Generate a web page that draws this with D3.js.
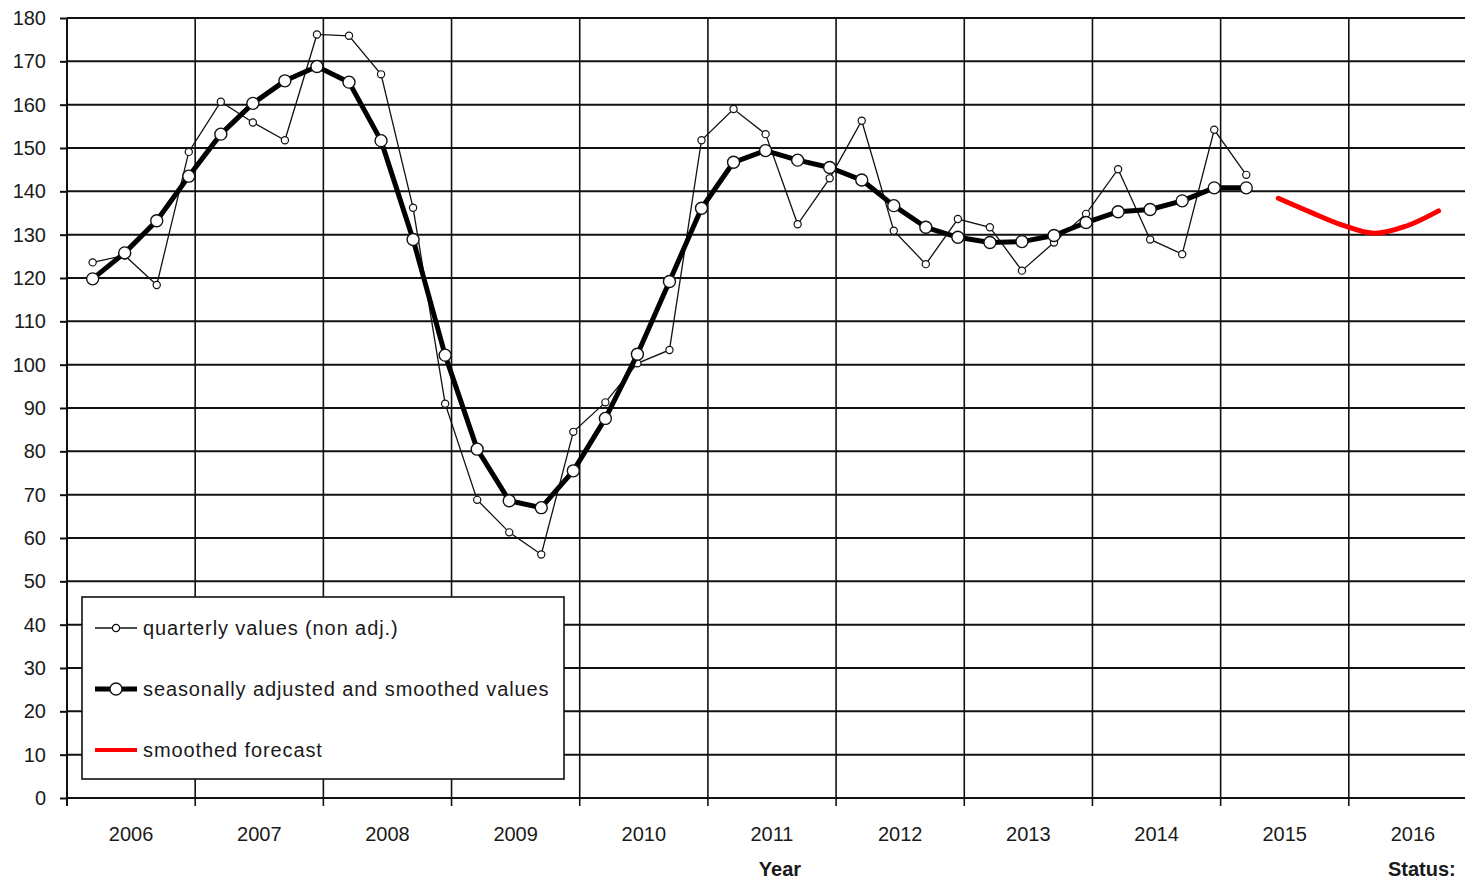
<!DOCTYPE html>
<html>
<head>
<meta charset="utf-8">
<script src="https://cdn.jsdelivr.net/npm/d3@7"></script>
<style>
  body { margin: 0; background: #fff; }
  svg { display: block; font-family: "Liberation Sans", Arial, sans-serif; }
</style>
</head>
<body>
<div id="chart"></div>
<script>
// Chart data
const years = [2006, 2007, 2008, 2009, 2010, 2011, 2012, 2013, 2014, 2015, 2016]
const yTicks = [0, 10, 20, 30, 40, 50, 60, 70, 80, 90, 100, 110, 120, 130, 140, 150, 160, 170, 180]

// quarterly values (non adj.), starting 2006 Q1
const quarterly = [
  123.6, 125.2, 118.4, 149.1,
  160.7, 155.9, 151.8, 176.2,
  175.9, 167.0, 136.2, 91.0,
  68.8, 61.3, 56.2, 84.5,
  91.3, 100.3, 103.4, 151.8,
  159.0, 153.2, 132.4, 143.0,
  156.3, 130.9, 123.2, 133.6,
  131.7, 121.7, 128.2, 134.8,
  145.1, 128.9, 125.5, 154.2,
  143.8
]

// seasonally adjusted and smoothed values, starting 2006 Q1
const smoothed = [
  119.8, 125.8, 133.2, 143.5,
  153.2, 160.3, 165.5, 168.8,
  165.2, 151.7, 128.9, 102.2,
  80.5, 68.6, 67.0, 75.5,
  87.6, 102.4, 119.2, 136.1,
  146.7, 149.4, 147.2, 145.5,
  142.6, 136.7, 131.7, 129.4,
  128.2, 128.4, 129.8, 132.8,
  135.3, 135.8, 137.8, 140.8,
  140.8
]

// smoothed forecast, 2015 Q2 .. 2016 Q3
const forecast = [138.4, 135.2, 132.2, 130.3, 132.0, 135.5]

const width = 1465
const height = 880
const margin = { top: 18, left: 67, bottom: 82 }
const plotRight = 1477 // plot runs past the right edge, as in the original

// quarter index (0 = 2006 Q1) -> fractional year
const qTime = i => 2006 + Math.floor(i / 4) + ((i % 4) + 0.8) / 4

const x = d3.scaleLinear().domain([2006, 2017]).range([margin.left, plotRight])
const y = d3.scaleLinear().domain([0, 180]).range([height - margin.bottom, margin.top])

const svg = d3.select('#chart')
  .append('svg')
  .attr('width', width)
  .attr('height', height)

// horizontal grid + y labels
const yAxis = d3.axisLeft(y).tickValues(yTicks).tickSize(7).tickPadding(14)
svg.append('g')
  .attr('transform', `translate(${margin.left},0)`)
  .call(yAxis)
  .call(g => g.select('.domain').remove())
  .call(g => g.selectAll('.tick line').attr('stroke', '#111').attr('stroke-width', 2))
  .call(g => g.selectAll('.tick text').attr('font-size', 20).attr('fill', '#1a1a1a'))

svg.append('g')
  .selectAll('line')
  .data(yTicks)
  .join('line')
  .attr('x1', margin.left)
  .attr('x2', plotRight)
  .attr('y1', d => y(d))
  .attr('y2', d => y(d))
  .attr('stroke', '#111')
  .attr('stroke-width', 2)

// vertical grid at year boundaries + ticks below
const yearEdges = years.concat([2017])
svg.append('g')
  .selectAll('line')
  .data(yearEdges)
  .join('line')
  .attr('x1', d => x(d))
  .attr('x2', d => x(d))
  .attr('y1', y(180))
  .attr('y2', y(0) + 8)
  .attr('stroke', '#111')
  .attr('stroke-width', d => d === 2006 ? 2 : 1.6)

// year labels
svg.append('g')
  .selectAll('text')
  .data(years)
  .join('text')
  .attr('x', d => x(d + 0.5))
  .attr('y', y(0) + 43)
  .attr('text-anchor', 'middle')
  .attr('font-size', 20)
  .attr('fill', '#1a1a1a')
  .text(d => d)

svg.append('text')
  .attr('x', 780)
  .attr('y', y(0) + 78)
  .attr('text-anchor', 'middle')
  .attr('font-size', 20)
  .attr('font-weight', 'bold')
  .attr('fill', '#1a1a1a')
  .text('Year')

svg.append('text')
  .attr('x', 1388)
  .attr('y', y(0) + 78)
  .attr('font-size', 20)
  .attr('font-weight', 'bold')
  .attr('fill', '#1a1a1a')
  .text('Status:')

// lines
const line = d3.line()
  .x(d => x(d.t))
  .y(d => y(d.v))

const qData = quarterly.map((v, i) => ({ t: qTime(i), v }))
const sData = smoothed.map((v, i) => ({ t: qTime(i), v }))
const fData = forecast.map((v, i) => ({ t: qTime(37 + i), v }))

svg.append('path')
  .datum(qData)
  .attr('d', line)
  .attr('fill', 'none')
  .attr('stroke', '#111')
  .attr('stroke-width', 1.3)

svg.append('g')
  .selectAll('circle')
  .data(qData)
  .join('circle')
  .attr('cx', d => x(d.t))
  .attr('cy', d => y(d.v))
  .attr('r', 3.6)
  .attr('fill', '#fff')
  .attr('stroke', '#111')
  .attr('stroke-width', 1.2)

svg.append('path')
  .datum(sData)
  .attr('d', line)
  .attr('fill', 'none')
  .attr('stroke', '#000')
  .attr('stroke-width', 5)
  .attr('stroke-linejoin', 'round')

svg.append('g')
  .selectAll('circle')
  .data(sData)
  .join('circle')
  .attr('cx', d => x(d.t))
  .attr('cy', d => y(d.v))
  .attr('r', 6)
  .attr('fill', '#fff')
  .attr('stroke', '#111')
  .attr('stroke-width', 1.4)

svg.append('path')
  .datum(fData)
  .attr('d', line.curve(d3.curveCatmullRom))
  .attr('fill', 'none')
  .attr('stroke', '#ff0000')
  .attr('stroke-width', 5)
  .attr('stroke-linecap', 'round')

// legend
const legend = svg.append('g').attr('transform', 'translate(82,597)')
legend.append('rect')
  .attr('width', 482)
  .attr('height', 182)
  .attr('fill', '#fff')
  .attr('stroke', '#111')
  .attr('stroke-width', 1.6)

const items = [
  { label: 'quarterly values (non adj.)', w: 1.3, r: 3.6, color: '#111' },
  { label: 'seasonally adjusted and smoothed values', w: 5, r: 6, color: '#000' },
  { label: 'smoothed forecast', w: 4, r: 0, color: '#ff0000' }
]
const rows = legend.selectAll('g.item')
  .data(items)
  .join('g')
  .attr('class', 'item')
  .attr('transform', (d, i) => `translate(0,${31 + i * 61})`)

rows.append('line')
  .attr('x1', 13).attr('x2', 55)
  .attr('stroke', d => d.color)
  .attr('stroke-width', d => d.w)
rows.filter(d => d.r > 0).append('circle')
  .attr('cx', 34)
  .attr('r', d => d.r)
  .attr('fill', '#fff')
  .attr('stroke', '#111')
  .attr('stroke-width', 1.3)
rows.append('text')
  .attr('x', 61)
  .attr('y', 7)
  .attr('font-size', 20)
  .attr('letter-spacing', 0.9)
  .attr('fill', '#1a1a1a')
  .text(d => d.label)
</script>
</body>
</html>
